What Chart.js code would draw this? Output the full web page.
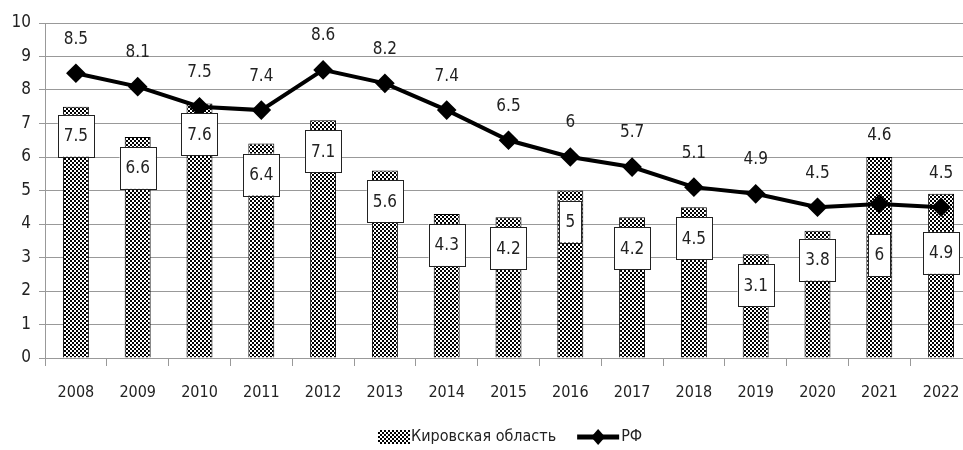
<!DOCTYPE html>
<html lang="ru">
<head>
  <meta charset="UTF-8">
  <title>Кировская область / РФ</title>
  <script src="https://cdn.jsdelivr.net/npm/chart.js"></script>
  <style>
    html, body { margin: 0; padding: 0; background: #fff; overflow: hidden; }
    #wrap { width: 963px; height: 450px; overflow: hidden; }
    canvas { display: block; }
  </style>
</head>
<body>
  <div id="wrap"><canvas id="chart" width="983" height="450"></canvas></div>
  <script>
    const years = ['2008', '2009', '2010', '2011', '2012', '2013', '2014', '2015',
                   '2016', '2017', '2018', '2019', '2020', '2021', '2022'];
    const kirov = [7.5, 6.6, 7.6, 6.4, 7.1, 5.6, 4.3, 4.2, 5, 4.2, 4.5, 3.1, 3.8, 6, 4.9];
    const rf = [8.5, 8.1, 7.5, 7.4, 8.6, 8.2, 7.4, 6.5, 6, 5.7, 5.1, 4.9, 4.5, 4.6, 4.5];
    const yTicks = [0, 1, 2, 3, 4, 5, 6, 7, 8, 9, 10];

    const FONT = "'DejaVu Sans Condensed', 'Liberation Sans Narrow', sans-serif";

    // checker pattern for the bars
    function makePattern() {
      const c = document.createElement('canvas');
      c.width = 4; c.height = 4;
      const g = c.getContext('2d');
      g.fillStyle = '#000';
      g.fillRect(0, 0, 4, 4);
      g.fillStyle = '#fff';
      g.fillRect(0, 0, 2, 2);
      g.fillRect(2, 2, 2, 2);
      return g.createPattern(c, 'repeat');
    }
    const pattern = makePattern();

    // value labels: boxed inside bars, plain above the line
    const labelPlugin = {
      id: 'valueLabels',
      afterDatasetsDraw(chart, args, opts) {
        const ctx = chart.ctx;
        ctx.save();
        ctx.font = '17px ' + FONT;
        ctx.textAlign = 'center';
        ctx.textBaseline = 'middle';
        const barMeta = chart.getDatasetMeta(0);
        barMeta.data.forEach((el, i) => {
          const txt = String(kirov[i]);
          const off = opts.barOffsets[i] !== undefined ? opts.barOffsets[i] : 31;
          const w = ctx.measureText(txt).width + 12;
          const h = 42;
          const cy = el.y + off;
          ctx.fillStyle = '#fff';
          ctx.fillRect(el.x - w / 2, cy - h / 2, w, h);
          ctx.strokeStyle = '#222';
          ctx.lineWidth = 1;
          ctx.strokeRect(Math.round(el.x - w / 2) + 0.5, Math.round(cy - h / 2) + 0.5, Math.round(w), h);
          ctx.fillStyle = '#222';
          ctx.fillText(txt, el.x, cy + 1);
        });
        const lineMeta = chart.getDatasetMeta(1);
        lineMeta.data.forEach((el, i) => {
          const off = opts.lineOffsets[i] !== undefined ? opts.lineOffsets[i] : 34;
          ctx.fillStyle = '#222';
          ctx.fillText(String(rf[i]), el.x, el.y - off);
        });
        ctx.restore();
      }
    };

    // legend below the axis, drawn by hand so it sits where the original does
    const legendPlugin = {
      id: 'bottomLegend',
      afterDraw(chart, args, opts) {
        const ctx = chart.ctx;
        const ds = chart.data.datasets;
        let x = opts.x;
        const y = opts.y;
        ctx.save();
        ctx.font = '16px ' + FONT;
        ctx.textBaseline = 'middle';
        // bar swatch
        ctx.fillStyle = pattern;
        ctx.fillRect(x, y - 7, 32, 14);
        ctx.fillStyle = '#222';
        ctx.fillText(ds[0].label, x + 33, y);
        x += 33 + ctx.measureText(ds[0].label).width + 21;
        // line swatch
        ctx.strokeStyle = '#000';
        ctx.lineWidth = 5;
        ctx.beginPath(); ctx.moveTo(x, y); ctx.lineTo(x + 42, y); ctx.stroke();
        ctx.fillStyle = '#000';
        ctx.beginPath();
        ctx.moveTo(x + 21, y - 8); ctx.lineTo(x + 28, y); ctx.lineTo(x + 21, y + 8); ctx.lineTo(x + 14, y);
        ctx.closePath(); ctx.fill();
        ctx.fillStyle = '#222';
        ctx.fillText(ds[1].label, x + 44, y);
        ctx.restore();
      }
    };

    new Chart(document.getElementById('chart'), {
      data: {
        labels: years,
        datasets: [
          {
            type: 'bar',
            label: 'Кировская область',
            data: kirov,
            backgroundColor: pattern,
            borderColor: '#000',
            borderWidth: 1,
            barPercentage: 0.42,
            categoryPercentage: 1,
            order: 2
          },
          {
            type: 'line',
            label: 'РФ',
            data: rf,
            borderColor: '#000',
            borderWidth: 4,
            pointStyle: 'rectRot',
            pointRadius: 7,
            pointBackgroundColor: '#000',
            pointBorderColor: '#000',
            tension: 0,
            order: 1
          }
        ]
      },
      options: {
        responsive: false,
        animation: false,
        layout: { padding: { top: 23, right: 0, left: 0, bottom: 41 } },
        plugins: {
          tooltip: { enabled: false },
          legend: { display: false },
          valueLabels: {
            barOffsets: { 0: 29, 12: 29, 13: 98, 14: 59 },
            lineOffsets: { 13: 68 }
          },
          bottomLegend: { x: 378, y: 437 }
        },
        scales: {
          x: {
            grid: { display: true, drawOnChartArea: false, offset: true, tickLength: 8, color: '#999' },
            border: { color: '#999' },
            ticks: { color: '#222', font: { family: FONT, size: 16 }, padding: 17, maxRotation: 0 },
            afterFit(axis) { axis.height = 51; }
          },
          y: {
            min: 0,
            max: 10,
            afterBuildTicks(axis) { axis.ticks = yTicks.map(v => ({ value: v })); },
            afterFit(axis) { axis.width = 45; },
            grid: { color: '#999', tickLength: 6 },
            border: { display: true, color: '#999' },
            ticks: { color: '#222', font: { family: FONT, size: 17 }, padding: 8 }
          }
        }
      },
      plugins: [labelPlugin, legendPlugin]
    });
  </script>
</body>
</html>
